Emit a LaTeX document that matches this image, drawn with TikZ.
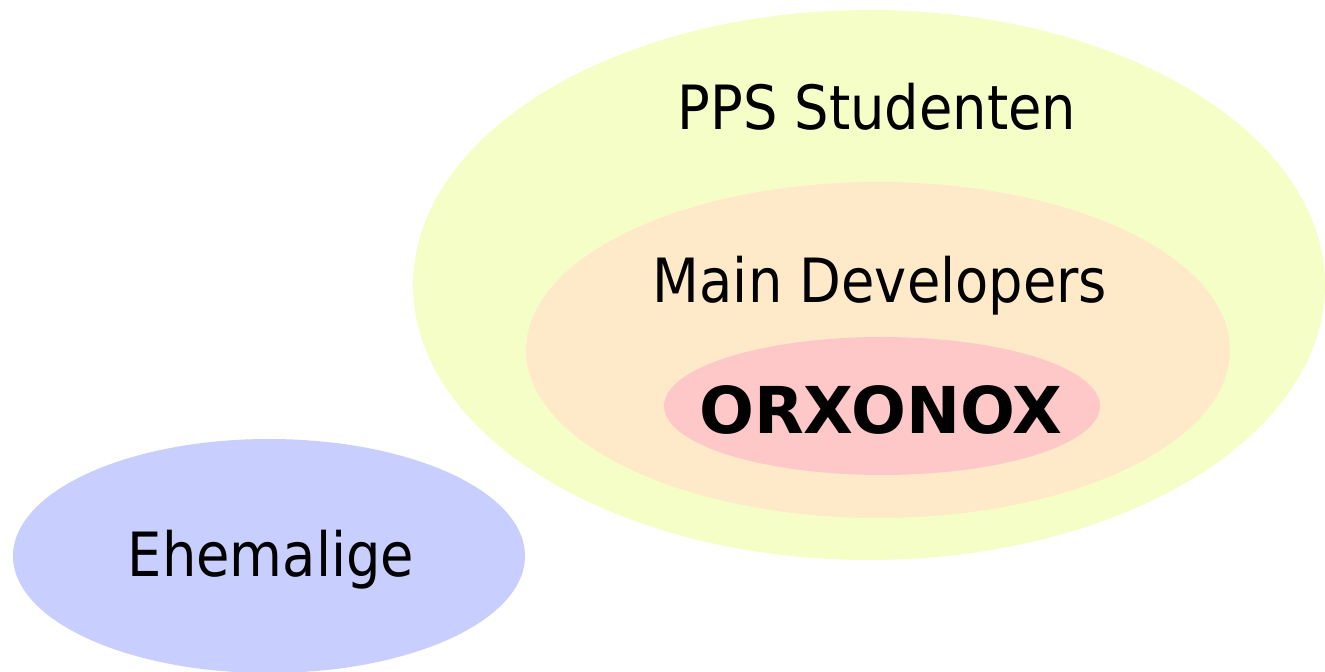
\documentclass[tikz,border=0pt]{standalone}
\usepackage{fontspec}
\usetikzlibrary{shapes.geometric}
\newfontfamily\tah{DejaVu Sans}[FakeStretch=0.89]
\newfontfamily\tahb{DejaVu Sans Bold}
\definecolor{yel}{HTML}{F6FEC8}
\definecolor{ora}{HTML}{FEEAC8}
\definecolor{pnk}{HTML}{FFC8C8}
\definecolor{blu}{HTML}{C8CEFE}
\tikzset{
  blob/.style={ellipse, draw=none, inner sep=0pt},
  lbl/.style={anchor=base, inner sep=0pt, font=\tah\fontsize{30.5}{30.5}\selectfont, text=black},
  lblb/.style={anchor=base, inner sep=0pt, font=\tahb\fontsize{32.3}{32.3}\selectfont, text=black}
}
\begin{document}
\begin{tikzpicture}[x=0.5pt, y=-0.5pt]
\useasboundingbox (0,0) rectangle (1325,672);
\node[blob, fill=yel, minimum width=456pt, minimum height=275pt] (pps) at (869,285) {};
\node[blob, fill=ora, minimum width=352pt, minimum height=168pt] (main) at (878,350) {};
\node[blob, fill=pnk, minimum width=218pt, minimum height=69pt] (orx) at (882,406) {};
\node[blob, fill=blu, minimum width=256pt, minimum height=117pt] (ehe) at (269,556) {};
\node[lbl] (tpps) at (877,130) {PPS Studenten};
\node[lbl] (tmain) at (880,303) {Main Developers};
\node[lblb] (torx) at (881,434) {ORXONOX};
\node[lbl] (tehe) at (271,576) {Ehemalige};
\end{tikzpicture}
\end{document}
